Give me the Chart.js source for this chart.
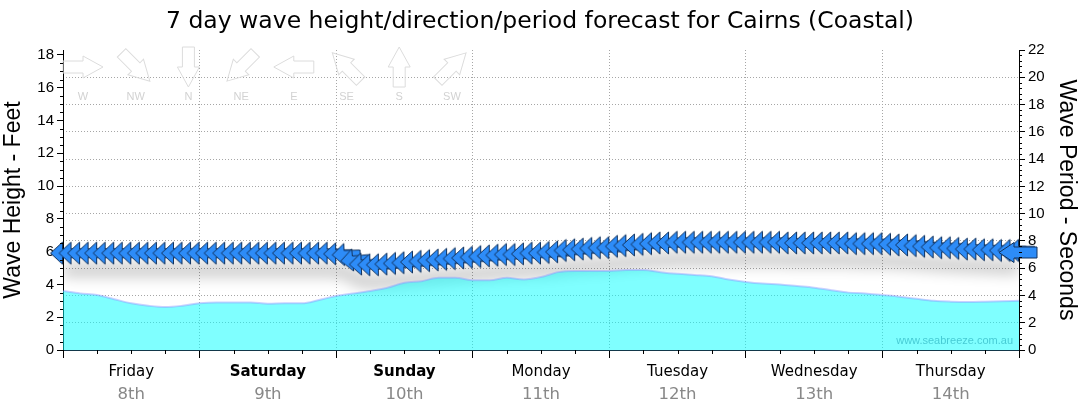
<!DOCTYPE html>
<html lang="en">
<head>
<meta charset="utf-8">
<title>7 day wave forecast - Cairns (Coastal)</title>
<script src="https://cdn.jsdelivr.net/npm/chart.js@4.4.1/dist/chart.umd.min.js"></script>
<style>
    html, body { margin: 0; padding: 0; background: #ffffff; }
    canvas { display: block; }
</style>
</head>
<body>
<canvas id="wave-chart" width="1080" height="414"></canvas>
<script>
// Textos y categorías
const chartTitle = '7 day wave height/direction/period forecast for Cairns (Coastal)';
const dayNames = ['Friday', 'Saturday', 'Sunday', 'Monday', 'Tuesday', 'Wednesday', 'Thursday'];
const dayDates = ['8th', '9th', '10th', '11th', '12th', '13th', '14th'];
const boldDays = ['Saturday', 'Sunday'];
const watermark = 'www.seabreeze.com.au';

// Leyenda de direcciones (arriba a la izquierda)
const compassLabels = ['W', 'NW', 'N', 'NE', 'E', 'SE', 'S', 'SW'];
const compassDegrees = [270, 315, 0, 45, 90, 135, 180, 225];

// Ticks de los ejes
const heightTicks = [0, 2, 4, 6, 8, 10, 12, 14, 16, 18];
const periodTicks = [0, 2, 4, 6, 8, 10, 12, 14, 16, 18, 20, 22];
const hoursPerDay = 24;
const totalHours = 168;

// Altura de ola (pies), cada 3 horas desde el viernes 00:00
const heightStepHours = 3;
const waveHeightFt = [
    3.6, 3.45, 3.35, 3.1, 2.85, 2.7, 2.62, 2.7,
    2.85, 2.9, 2.9, 2.9, 2.82, 2.85, 2.85, 3.05,
    3.3, 3.45, 3.6, 3.8, 4.1, 4.2, 4.4, 4.4,
    4.25, 4.25, 4.4, 4.3, 4.45, 4.75, 4.82, 4.82,
    4.82, 4.88, 4.88, 4.75, 4.65, 4.58, 4.5, 4.3,
    4.15, 4.05, 4.0, 3.9, 3.8, 3.65, 3.5, 3.45,
    3.35, 3.25, 3.12, 3.0, 2.95, 2.93, 2.95, 2.98,
    3.0
];

// Periodo (segundos) y dirección (grados), cada 1.5 horas
const periodStepHours = 1.5;
const wavePeriodSec = [
    7.1, 7.1, 7.1, 7.1, 7.1, 7.1, 7.1, 7.1, 7.1, 7.1, 7.1, 7.1, 7.1, 7.1, 7.1, 7.1,
    7.1, 7.1, 7.1, 7.1, 7.1, 7.1, 7.1, 7.1, 7.1, 7.1, 7.1, 7.1, 7.1, 7.1, 7.1, 7.1,
    7.05, 7.0, 6.6, 6.3, 6.25, 6.25, 6.3, 6.35, 6.4, 6.45, 6.5, 6.55, 6.6, 6.65, 6.7, 6.75,
    6.8, 6.85, 6.9, 6.95, 7.0, 7.0, 7.05, 7.1, 7.1, 7.15, 7.2, 7.3, 7.35, 7.4, 7.45, 7.5,
    7.5, 7.6, 7.65, 7.7, 7.75, 7.8, 7.85, 7.85, 7.9, 7.9, 7.9, 7.9, 7.9, 7.9, 7.9, 7.9,
    7.9, 7.9, 7.9, 7.9, 7.9, 7.85, 7.85, 7.85, 7.85, 7.85, 7.85, 7.85, 7.85, 7.8, 7.8, 7.8,
    7.8, 7.75, 7.7, 7.7, 7.65, 7.6, 7.55, 7.5, 7.5, 7.45, 7.4, 7.4, 7.35, 7.35, 7.3, 7.3,
    7.3
];
const waveDirectionDeg = [
    90, 90, 90, 90, 90, 90, 90, 90, 90, 90, 90, 90, 90, 90, 90, 90,
    90, 90, 90, 90, 90, 90, 90, 90, 90, 90, 90, 90, 90, 90, 90, 90,
    90, 88, 85, 88, 90, 90, 90, 90, 90, 90, 90, 90, 90, 90, 90, 90,
    90, 90, 90, 90, 90, 90, 90, 90, 90, 90, 90, 90, 90, 90, 90, 90,
    90, 90, 90, 90, 90, 90, 90, 90, 90, 90, 90, 90, 90, 90, 90, 90,
    90, 90, 90, 90, 90, 90, 90, 90, 90, 90, 90, 90, 90, 90, 90, 90,
    90, 90, 90, 90, 90, 90, 90, 90, 90, 90, 90, 90, 90, 90, 90, 90,
    90
];

const ARROW_FILL = '#2d8cf8';
const ARROW_LINE = '#12335e';
const SANS = "'Liberation Sans', Arial, sans-serif";
const VERDANA = "'DejaVu Sans', Verdana, sans-serif";

Chart.defaults.font.family = SANS;
Chart.defaults.color = '#000';

// Dibuja una flecha sobre el eje x (punta, base de la cabeza, cola)
function arrowPath(c, xTip, xBase, xTail, headHalf, shaftHalf) {
    c.beginPath();
    c.moveTo(xTip, 0);
    c.lineTo(xBase, -headHalf);
    c.lineTo(xBase, -shaftHalf);
    c.lineTo(xTail, -shaftHalf);
    c.lineTo(xTail, shaftHalf);
    c.lineTo(xBase, shaftHalf);
    c.lineTo(xBase, headHalf);
    c.closePath();
}

// Imagen de la flecha que usan los puntos del periodo (apunta a la izquierda)
function makeArrowImage() {
    const img = document.createElement('canvas');
    img.width = 34;
    img.height = 26;
    const c = img.getContext('2d');
    c.translate(17, 13);
    arrowPath(c, -12.5, -0.5, 15.5, 11, 4);
    c.fillStyle = ARROW_FILL;
    c.fill();
    c.lineWidth = 1;
    c.strokeStyle = ARROW_LINE;
    c.stroke();
    return img;
}

// Sombra gris debajo de la fila de flechas
const periodShadow = {
    id: 'periodShadow',
    beforeDatasetsDraw(chart) {
        const meta = chart.getDatasetMeta(0);
        const area = chart.chartArea;
        const c = chart.ctx;
        c.save();
        c.beginPath();
        c.rect(area.left, area.top, area.right - area.left, area.bottom - area.top);
        c.clip();
        c.shadowColor = 'rgba(0, 0, 0, 0.2)';
        c.shadowBlur = 14;
        c.shadowOffsetX = 4000;
        c.shadowOffsetY = 17;
        c.translate(-4000, 0);
        c.lineWidth = 14;
        c.lineJoin = 'round';
        c.strokeStyle = '#000';
        c.beginPath();
        meta.data.forEach((p, i) => i ? c.lineTo(p.x, p.y) : c.moveTo(p.x, p.y));
        c.stroke();
        c.restore();
    }
};

// Leyenda de direcciones y marca de agua
const directionLegend = {
    id: 'directionLegend',
    afterDatasetsDraw(chart) {
        const c = chart.ctx;
        const area = chart.chartArea;
        c.save();
        compassLabels.forEach((label, i) => {
            const cx = area.left + 20 + i * 52.7;
            const cy = area.top + 17;
            c.save();
            c.translate(cx, cy);
            c.rotate((compassDegrees[i] + 90) * Math.PI / 180);
            arrowPath(c, 20, 0, -20, 11, 6);
            c.lineWidth = 1;
            c.strokeStyle = '#dcdcdc';
            c.stroke();
            c.restore();
            c.font = '11px ' + SANS;
            c.fillStyle = '#d2d2d2';
            c.textAlign = 'center';
            c.textBaseline = 'middle';
            c.fillText(label, cx, area.top + 47);
        });
        c.font = '11px ' + SANS;
        c.fillStyle = 'rgba(0, 140, 160, 0.45)';
        c.textAlign = 'right';
        c.textBaseline = 'middle';
        c.fillText(watermark, area.right - 6, area.bottom - 9);
        c.restore();
    }
};

// Flecha grande sobre el eje derecho con el último periodo
const currentArrow = {
    id: 'currentArrow',
    afterDatasetsDraw(chart) {
        const meta = chart.getDatasetMeta(0);
        const last = meta.data[meta.data.length - 1];
        const area = chart.chartArea;
        const c = chart.ctx;
        c.save();
        c.translate(0, Math.round(last.y + 2) + 0.5);
        arrowPath(c, area.right - 20, area.right - 5, area.right + 18, 10, 5.5);
        c.fillStyle = ARROW_FILL;
        c.fill();
        c.lineWidth = 1;
        c.strokeStyle = ARROW_LINE;
        c.stroke();
        c.restore();
    }
};

// Marcas menores de los ejes
const minorTicks = {
    id: 'minorTicks',
    afterDraw(chart) {
        const { ctx: c, scales: { x, y, y1 } } = chart;
        c.save();
        c.strokeStyle = '#000';
        c.lineWidth = 1;
        c.beginPath();
        for (let i = 1; i * 0.5 < y.max; i++) {
            if (i % 4 === 0) continue;
            const py = Math.round(y.getPixelForValue(i * 0.5)) + 0.5;
            c.moveTo(y.right - 3, py);
            c.lineTo(y.right, py);
        }
        for (let i = 1; i * 0.4 < y1.max; i++) {
            if (i % 5 === 0) continue;
            const py = Math.round(y1.getPixelForValue(i * 0.4)) + 0.5;
            c.moveTo(y1.left, py);
            c.lineTo(y1.left + 3, py);
        }
        for (let h = 6; h < totalHours; h += 6) {
            if (h % hoursPerDay === 0) continue;
            const px = Math.round(x.getPixelForValue(h)) + 0.5;
            c.moveTo(px, x.top);
            c.lineTo(px, x.top + 4);
        }
        c.stroke();
        c.restore();
    }
};

const dayIndex = v => Math.floor(v / hoursPerDay);
const isDayCenter = v => v % hoursPerDay === hoursPerDay / 2;
const tickValue = ctx => ctx.tick ? ctx.tick.value : -1;
const gridGrey = '#a6a6a6';

const waveChart = new Chart(document.getElementById('wave-chart'), {
    type: 'line',
    data: {
        datasets: [{
            label: 'Wave period',
            yAxisID: 'y1',
            data: wavePeriodSec.map((v, i) => ({ x: i * periodStepHours, y: v })),
            showLine: false,
            pointStyle: makeArrowImage(),
            pointRadius: 10,
            pointRotation: ctx => waveDirectionDeg[ctx.dataIndex] - 90,
            clip: false,
            order: 0
        }, {
            label: 'Wave height',
            yAxisID: 'y',
            data: waveHeightFt.map((v, i) => ({ x: i * heightStepHours, y: v })),
            fill: 'origin',
            backgroundColor: 'rgba(0, 255, 255, 0.5)',
            borderColor: 'rgba(140, 150, 255, 0.45)',
            borderWidth: 2,
            cubicInterpolationMode: 'monotone',
            pointRadius: 0,
            order: 1
        }]
    },
    options: {
        responsive: false,
        animation: false,
        layout: { padding: 0 },
        plugins: {
            legend: { display: false },
            tooltip: { enabled: false },
            title: {
                display: true,
                text: chartTitle,
                color: '#000',
                font: { family: VERDANA, size: 23.5, weight: 'normal' },
                padding: { top: 8, bottom: 13.8 }
            }
        },
        scales: {
            x: {
                type: 'linear',
                min: 0,
                max: totalHours,
                afterFit: s => { s.height = 35; },
                ticks: {
                    stepSize: 6,
                    autoSkip: false,
                    maxRotation: 0,
                    padding: 5,
                    color: '#000',
                    font: ctx => ({
                        family: VERDANA,
                        size: 15,
                        weight: boldDays.includes(dayNames[dayIndex(tickValue(ctx))]) ? 'bold' : 'normal'
                    }),
                    callback: v => isDayCenter(v) ? dayNames[dayIndex(v)] : ''
                },
                grid: {
                    color: ctx => {
                        const v = tickValue(ctx);
                        return (v % hoursPerDay === 0 && v > 0 && v < totalHours) ? gridGrey : 'transparent';
                    },
                    tickColor: ctx => tickValue(ctx) % hoursPerDay === 0 ? '#000' : 'transparent',
                    tickLength: 8
                },
                border: { color: '#12384a', dash: [1, 2] }
            },
            x2: {
                type: 'linear',
                position: 'bottom',
                min: 0,
                max: totalHours,
                afterFit: s => { s.height = 29; },
                ticks: {
                    stepSize: 6,
                    autoSkip: false,
                    maxRotation: 0,
                    padding: 0,
                    color: '#888888',
                    font: { family: VERDANA, size: 16.5 },
                    callback: v => isDayCenter(v) ? dayDates[dayIndex(v)] : ''
                },
                grid: { display: false, drawTicks: false },
                border: { display: false }
            },
            y: {
                position: 'left',
                min: 0,
                max: 18.3,
                afterFit: s => { s.width = 63; },
                afterBuildTicks: s => { s.ticks = heightTicks.map(v => ({ value: v })); },
                ticks: { padding: 3, font: { size: 15 }, color: '#000' },
                grid: { drawOnChartArea: false, tickColor: '#000', tickLength: 6 },
                border: { color: '#000' },
                title: {
                    display: true,
                    text: 'Wave Height - Feet',
                    font: { size: 23 },
                    color: '#000',
                    padding: { top: 0, bottom: 0 }
                }
            },
            y1: {
                position: 'right',
                min: 0,
                max: 22,
                afterFit: s => { s.width = 61; },
                afterBuildTicks: s => { s.ticks = periodTicks.map(v => ({ value: v })); },
                ticks: { padding: 3, font: { size: 15 }, color: '#000' },
                grid: {
                    color: ctx => {
                        const v = tickValue(ctx);
                        return (v === 0 || v === 22) ? 'transparent' : gridGrey;
                    },
                    tickColor: '#000',
                    tickLength: 6
                },
                border: { color: '#000', dash: [1, 2] },
                title: {
                    display: true,
                    text: 'Wave Period - Seconds',
                    font: { size: 23 },
                    color: '#000',
                    padding: { top: 0, bottom: 0 }
                }
            }
        }
    },
    plugins: [periodShadow, directionLegend, currentArrow, minorTicks]
});
</script>
</body>
</html>
